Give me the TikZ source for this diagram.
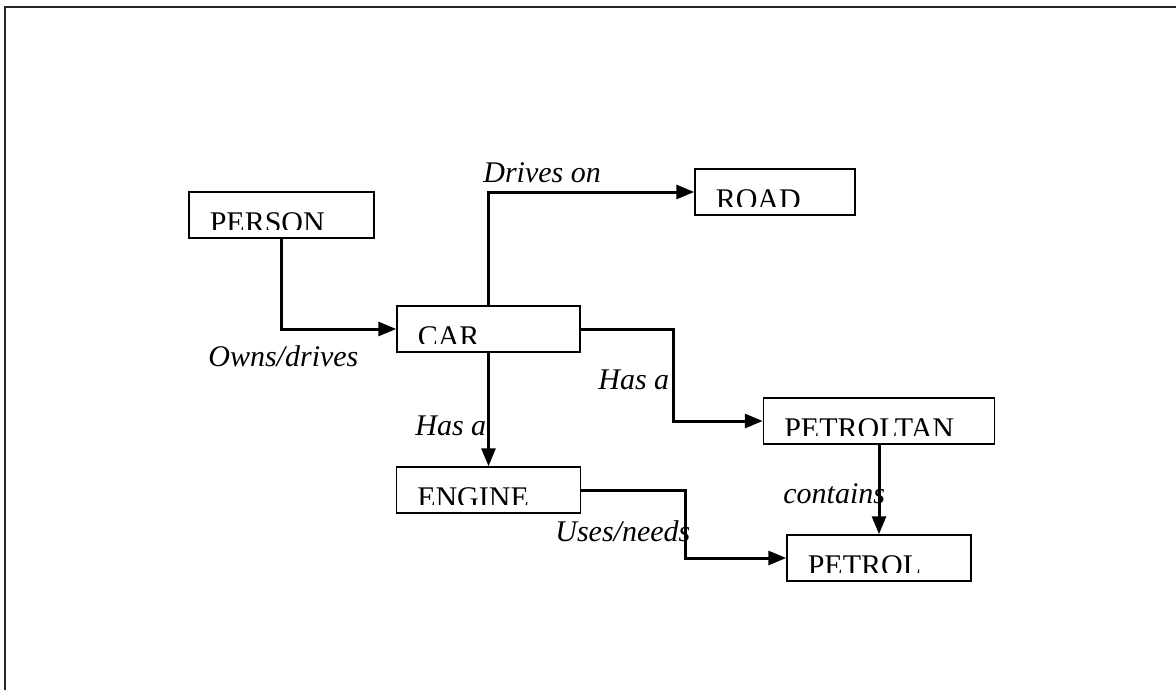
\documentclass[tikz,border=0pt]{standalone}
\usepackage{fontspec}
\setmainfont{Liberation Serif}
\usetikzlibrary{arrows.meta}
\tikzset{
  box/.style={draw, line width=0.75pt, minimum height=23pt, inner sep=0pt,
    path picture={
      \clip ([yshift=4.4pt]path picture bounding box.south west) rectangle (path picture bounding box.north east);
      \node[anchor=base west, inner sep=0pt, minimum width=0pt, minimum height=0pt, draw=none]
        at ([xshift=10pt,yshift=-20.3pt]path picture bounding box.north west) {#1};
    }},
  conn/.style={line width=1.5pt, -{Triangle[length=9pt,width=7pt]}},
  lbl/.style={anchor=base west, inner sep=0pt, font=\fontsize{15}{18}\selectfont\itshape},
  frame/.style={line width=1pt, black!85}
}
\begin{document}
\begin{tikzpicture}[x=0.5pt, y=-0.5pt, font=\fontsize{15}{18}\selectfont]
\useasboundingbox (0,0) rectangle (1176,690);
\draw[frame] (4.5,690) -- (4.5,7) -- (1176,7);

\node[box=PERSON, minimum width=92.5pt] (person) at (281.5,215) {};
\node[box=ROAD, minimum width=80pt] (road) at (775,192) {};
\node[box=CAR, minimum width=91.5pt] (car) at (488.5,329) {};
\node[box=PETROLTAN, minimum width=115.5pt] (tank) at (879,421) {};
\node[box=ENGINE, minimum width=92pt] (engine) at (488.5,490) {};
\node[box=PETROL, minimum width=92pt] (petrol) at (879,558) {};

\draw[conn] (person.south) |- (car.west);
\draw[conn] (car.north) |- (road.west);
\draw[conn] (car.east) -- ++(93,0) |- (tank.west);
\draw[conn] (car.south) -- (engine.north);
\draw[conn] (engine.east) -- ++(104,0) |- (petrol.west);
\draw[conn] (tank.south) -- (petrol.north);

\node[lbl] (l1) at (208,366) {Owns/drives};
\node[lbl] (l2) at (483,182) {Drives on};
\node[lbl] (l3) at (598,389) {Has a};
\node[lbl] (l4) at (415,435) {Has a};
\node[lbl] (l5) at (783,503) {contains};
\node[lbl] (l6) at (555,541) {Uses/needs};
\end{tikzpicture}
\end{document}
